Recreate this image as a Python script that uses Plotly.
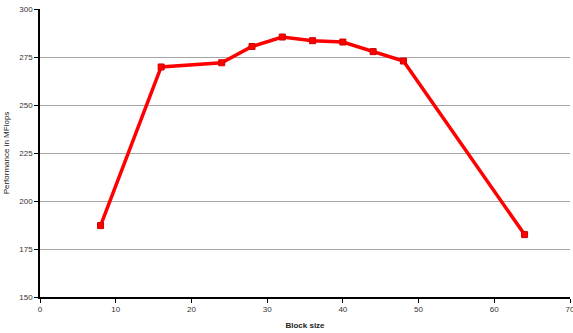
import plotly.graph_objects as go

block_size = [8, 16, 24, 28, 32, 36, 40, 44, 48, 64]
mflops = [187.2, 269.8, 272.0, 280.5, 285.4, 283.5, 282.8, 277.8, 272.9, 182.5]
x_ticks = [0, 10, 20, 30, 40, 50, 60, 70]
y_ticks = [150, 175, 200, 225, 250, 275, 300]

fig = go.Figure()
fig.add_trace(go.Scatter(
    x=block_size, y=mflops, mode="lines+markers",
    line=dict(color="#FF0000", width=3.5),
    marker=dict(symbol="square", size=6, color="#FF0000",
                line=dict(color="#CC0000", width=1)),
    showlegend=False,
))

font = dict(family="Liberation Sans, Arial, sans-serif", size=8, color="#333333")
fig.update_layout(
    width=573, height=333,
    margin=dict(l=40, r=3, t=9, b=36, autoexpand=False),
    paper_bgcolor="white", plot_bgcolor="white",
    font=font,
    xaxis=dict(
        range=[0, 70], tickvals=x_ticks, showgrid=False, zeroline=False,
        showline=True, linecolor="black", linewidth=1.5,
        ticks="outside", ticklen=4, tickcolor="black",
        ticklabeloverflow="allow", automargin=False,
        title=dict(text="<b>Block size</b>", font=dict(size=8, color="#222222"), standoff=9),
    ),
    yaxis=dict(
        range=[150, 300], tickvals=y_ticks, showgrid=True, gridcolor="#A6A6A6", gridwidth=1,
        zeroline=False, showline=True, linecolor="black", linewidth=1.5,
        ticks="outside", ticklen=4, tickcolor="black", automargin=False,
        title=dict(text="Performance in MFlops", font=dict(size=8, color="#222222"), standoff=8),
    ),
)
fig.write_html("out.html")
